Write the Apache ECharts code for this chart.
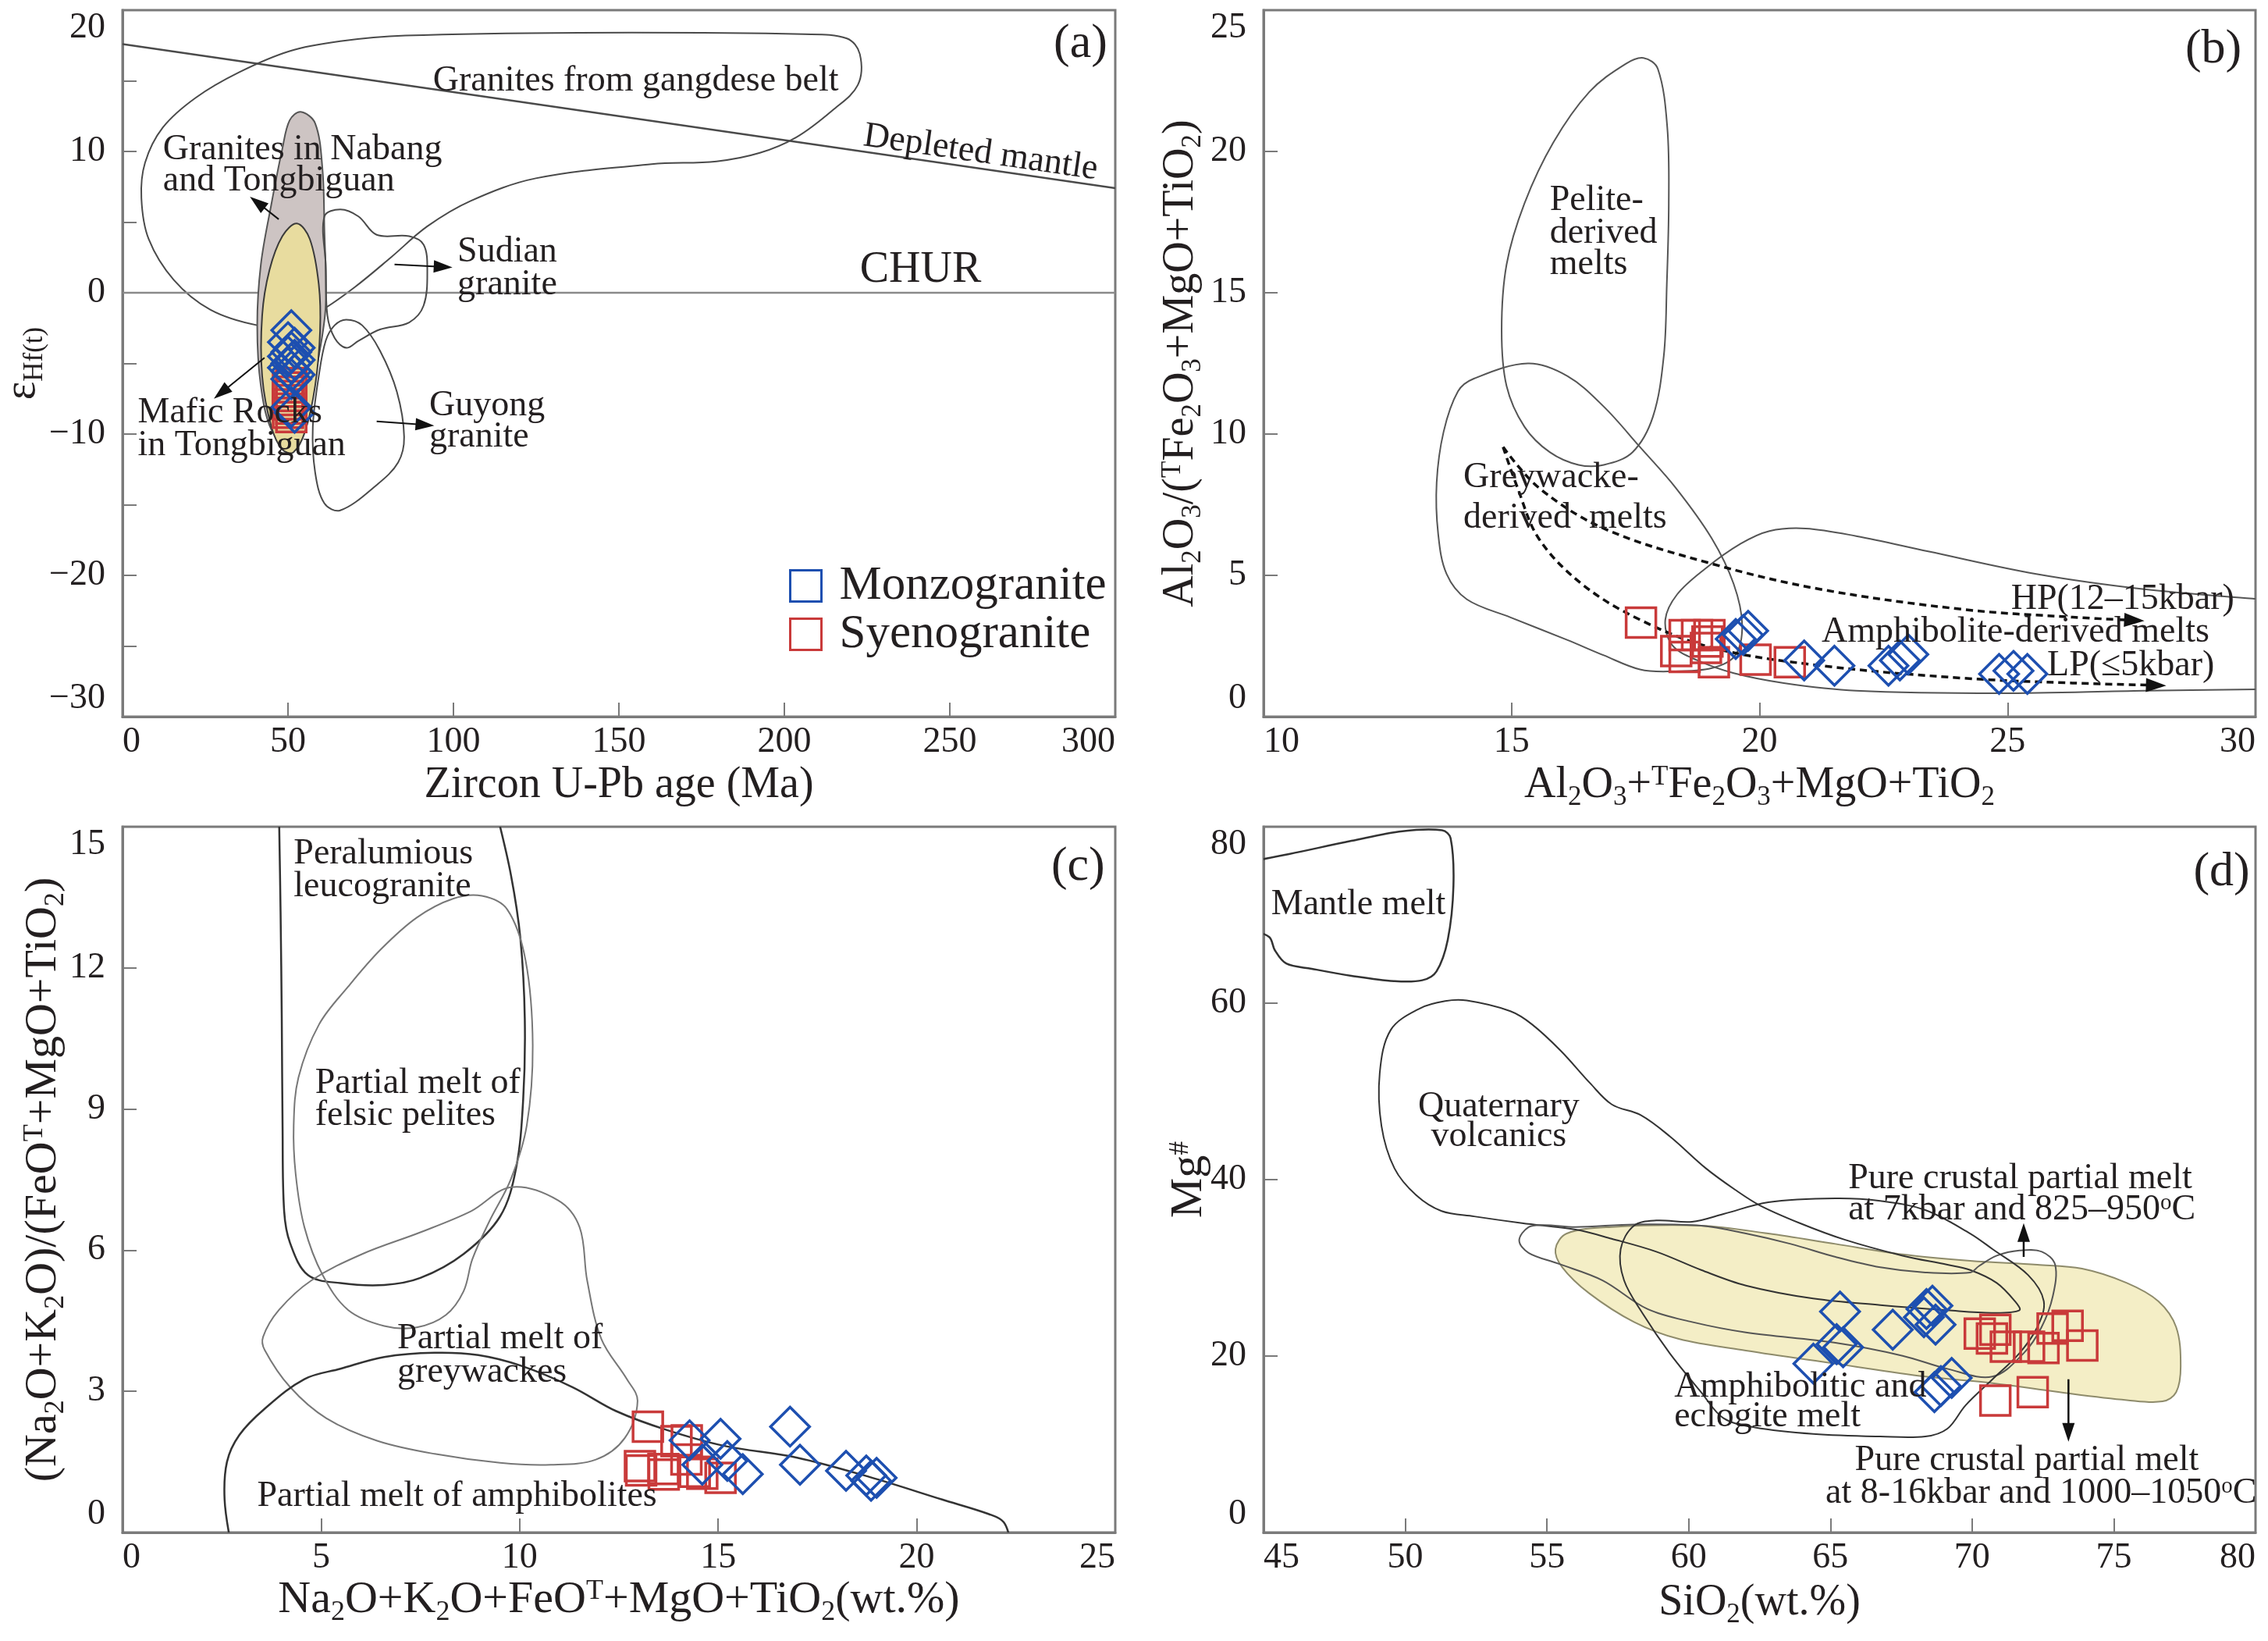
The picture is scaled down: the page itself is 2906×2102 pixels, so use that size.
<!DOCTYPE html>
<html><head><meta charset="utf-8">
<script src="https://cdn.jsdelivr.net/npm/echarts@6/dist/echarts.min.js"></script>
<style>html,body{margin:0;padding:0;background:#fff}#chart{width:2906px;height:2102px}</style>
</head><body><div id="chart"></div>
<script>
// ---------------- DATA ----------------
// Panel (a): Zircon U-Pb age (Ma) vs eHf(t)
const monzoA = [[51,-2.65],[50,-3.5],[52,-3.9],[51,-4.2],[50,-4.5],[52,-4.75],[51,-5.0],[50,-5.3],[51,-5.55],[52,-5.8],[51,-6.1],[51,-8.1],[52,-8.5]];
const syenoA = [[51,-6.4],[50,-6.7],[51,-7.0],[50,-7.3],[51,-7.6],[50,-7.9],[51,-8.2],[50,-8.5],[51,-8.8]];
// Panel (b): Al2O3+TFe2O3+MgO+TiO2 vs Al2O3/(TFe2O3+MgO+TiO2)
const monzoB = [[19.52,2.75],[19.67,2.89],[19.77,3.04],[20.9,1.99],[21.51,1.8],[22.6,1.8],[22.83,1.99],[23.0,2.2],[24.83,1.51],[25.12,1.62],[25.4,1.51]];
const syenoB = [[17.61,3.33],[18.32,2.32],[18.49,2.89],[18.74,2.89],[18.99,2.89],[18.49,2.11],[18.92,2.43],[19.08,1.93],[18.95,2.66],[19.92,2.02],[20.61,1.93]];
// Panel (c)
const monzoC = [[14.28,1.96],[15.06,1.99],[14.6,1.44],[15.23,1.52],[15.62,1.24],[16.81,2.25],[17.06,1.44],[18.22,1.31],[18.73,1.21],[18.99,1.16],[18.85,1.1]];
const syenoC = [[13.23,2.25],[13.95,1.94],[14.21,1.96],[13.03,1.41],[13.06,1.32],[13.62,1.35],[13.63,1.23],[14.41,1.29],[15.06,1.16],[14.6,1.25],[14.2,1.55]];
// Panel (d)
const monzoD = [[65.34,25.04],[65.22,21.35],[65.45,21.0],[64.4,19.14],[67.2,22.98],[68.39,25.34],[68.6,25.7],[68.71,23.57],[68.3,24.4],[69.28,17.52],[68.67,15.9],[68.9,16.6]];
const syenoD = [[70.27,22.54],[70.82,22.98],[70.7,22.0],[71.19,21.06],[72.01,21.06],[72.52,20.9],[72.84,23.12],[73.37,23.42],[73.89,21.2],[70.82,14.95],[72.14,15.9]];

// Field outlines (a)
const fieldGangdese = [[40.7,-2.3],[26.5,-1.2],[15.5,0.9],[7.9,3.8],[5.7,6.7],[6.8,9.2],[12.2,11.7],[22.1,13.8],[35.2,15.6],[50.5,17.1],[65.8,17.8],[85.5,18.2],[138,18.4],[205.8,18.3],[218.9,18.0],[222.8,16.9],[222.2,14.7],[214.5,12.9],[203.6,11.0],[192.6,9.9],[179.5,9.3],[159.9,9.1],[124.9,8.1],[105.2,6.5],[92.1,4.7],[81.1,2.5],[70.2,0.4],[60.4,-1.2],[50.5,-2.3]];
const fieldNabang = [[53.8,12.8],[58.2,12.0],[60.4,8.8],[61.0,4.5],[61.4,-0.9],[59.3,-4.5],[56.0,-8.0],[52.7,-9.8],[49.4,-10.5],[45.0,-9.7],[41.8,-6.6],[40.7,-2.3],[41.8,2.0],[45.0,6.3],[48.3,10.2],[50.5,12.2]];
const fieldMafic = [[52.7,4.9],[56.6,3.8],[59.3,0.6],[59.7,-2.7],[58.2,-6.6],[55.2,-9.8],[51.6,-11.3],[48.3,-11.1],[45.0,-9.5],[42.2,-5.9],[42.2,-1.6],[44.4,1.6],[48.3,4.0]];
const fieldSudian = [[61.0,5.4],[65.8,5.9],[71.3,5.4],[76.8,4.1],[86.6,4.0],[91.0,3.4],[92.1,1.6],[91.0,-0.9],[86.6,-2.1],[77.8,-2.6],[71.3,-3.4],[67.6,-3.9],[64.1,-3.2],[61.9,-1.6],[61.4,2.0]];
const fieldGuyong = [[67.6,-1.9],[72.4,-2.3],[77.8,-4.1],[82.9,-7.0],[85.1,-10.2],[83.3,-12.0],[76.8,-13.6],[65.8,-15.4],[61.0,-14.9],[58.2,-12.7],[57.5,-9.5],[59.3,-5.9],[61.4,-3.4],[64.1,-2.3]];
const lineDepleted = [[0,17.6],[300,7.4]];
const lineChur = [[0,0],[300,0]];
const arrowsA = [[[47.2,5.2],[38.5,6.8]],[[82.2,2.0],[99.7,1.8]],[[42.9,-4.6],[27.6,-7.5]],[[76.8,-9.1],[94.2,-9.4]]];

// Field outlines (b)
const fieldPelite = [[17.66,23.31],[17.95,22.92],[18.14,20.85],[18.17,18.16],[18.13,15.28],[18.07,12.77],[17.85,10.61],[17.44,9.36],[16.86,8.91],[16.35,8.91],[15.77,9.36],[15.26,10.26],[14.90,11.70],[14.80,13.67],[14.90,16.0],[15.26,18.16],[15.84,20.31],[16.57,22.11],[17.30,23.10]];
const fieldGreywacke = [[14.24,11.96],[15.33,12.50],[16.13,12.05],[16.86,10.97],[17.59,9.54],[18.31,8.10],[19.04,6.30],[19.48,4.69],[19.65,3.25],[19.51,2.17],[19.04,1.72],[18.17,1.60],[17.59,1.67],[16.86,2.17],[16.13,2.71],[14.97,3.52],[14.10,4.15],[13.69,5.05],[13.52,6.48],[13.49,8.28],[13.63,10.08],[13.92,11.51]];
const fieldAmphB = [[30.2,4.16],[29.94,4.18],[27.76,4.51],[25.58,5.05],[23.40,5.85],[21.95,6.39],[20.93,6.66],[20.20,6.57],[19.62,6.12],[18.90,5.23],[18.34,4.33],[18.10,3.43],[18.24,2.53],[18.75,1.99],[19.48,1.54],[20.49,1.19],[21.95,0.92],[24.85,0.83],[27.76,0.92],[30.2,0.97]];
const trendHP = [[14.83,9.54],[15.55,8.1],[16.86,6.66],[19.04,5.41],[21.22,4.51],[24.13,3.79],[26.31,3.52],[27.76,3.39]];
const trendLP = [[14.83,9.54],[15.12,8.1],[15.55,6.30],[16.42,4.69],[17.59,3.43],[19.04,2.44],[21.22,1.81],[24.13,1.36],[26.31,1.19],[28.2,1.10]];

// Field outlines (c)
const fieldLeuco = [[3.94,15.3],[3.98,13.19],[4.01,10.92],[4.03,8.65],[4.07,6.83],[4.22,6.15],[4.67,5.47],[5.49,5.30],[6.59,5.26],[7.50,5.41],[8.59,5.92],[9.51,6.72],[9.91,7.74],[10.09,9.21],[10.13,10.92],[10.02,12.62],[9.78,13.98],[9.42,15.3]];
const fieldFelsicPelites = [[9.05,13.53],[9.69,13.24],[10.15,12.16],[10.33,10.35],[10.18,8.65],[9.78,7.51],[9.23,6.60],[8.81,5.81],[8.59,5.13],[8.14,4.62],[7.41,4.36],[6.59,4.39],[5.68,4.73],[5.04,5.47],[4.58,6.49],[4.36,7.62],[4.31,8.65],[4.43,9.67],[4.95,10.80],[5.68,11.60],[6.50,12.39],[7.41,13.07],[8.32,13.47]];
const fieldGreywackes = [[9.78,7.34],[10.97,7.06],[11.51,6.49],[11.70,5.36],[12.06,4.11],[12.70,3.26],[12.97,2.80],[12.65,2.01],[11.92,1.55],[10.78,1.44],[9.51,1.48],[7.86,1.67],[6.41,1.95],[5.13,2.43],[4.22,3.09],[3.58,3.88],[3.54,4.16],[3.94,4.73],[4.76,5.36],[6.04,5.92],[7.50,6.38],[8.78,6.83]];
const fieldAmphC = [[2.72,-0.2],[2.57,0.70],[2.63,1.50],[2.94,2.07],[3.58,2.63],[4.58,3.26],[5.49,3.48],[6.59,3.73],[7.86,3.82],[8.96,3.77],[10.05,3.54],[11.33,3.09],[12.43,2.58],[13.70,2.18],[15.16,1.84],[16.99,1.59],[18.81,1.18],[20.64,0.70],[21.82,0.39],[22.19,0.22],[22.36,-0.2]];

// Field outlines (d)
const fieldMantle = [[44.6,76.1],[45.9,76.9],[48.1,78.4],[49.9,79.5],[51.3,79.6],[51.6,78.7],[51.7,73.3],[51.5,67.2],[51.1,63.6],[50.6,62.6],[49.6,62.5],[48.1,63.1],[46.7,63.9],[45.8,64.5],[45.4,66.0],[45.2,67.5],[44.6,68.2]];
const fieldQuaternary = [[52.17,60.30],[53.71,59.09],[54.48,57.58],[55.50,54.56],[56.52,50.94],[57.29,48.52],[58.31,47.31],[59.34,44.89],[60.61,41.27],[61.64,38.85],[62.5,37.1],[63.92,35.07],[65.5,33.2],[67.55,31.38],[69.13,30.35],[69.93,29.76],[70.87,28.29],[71.51,26.22],[71.67,25.19],[70.7,24.9],[69.13,25.19],[66.76,25.78],[64.39,26.52],[62.02,27.99],[60.44,29.76],[58.86,31.83],[57.28,33.3],[56.01,34.33],[54.12,35.07],[52.43,35.83],[51.28,36.44],[50.38,38.25],[49.62,41.27],[49.16,46.1],[49.1,52.1],[49.49,56.98],[50.51,59.4],[51.41,60.24]];
const field7kbar = [[54.35,34.62],[54.02,33.1],[54.35,31.7],[55.38,30.5],[56.96,28.58],[58.54,25.34],[60.12,23.86],[62.02,22.68],[65.18,21.5],[67.55,20.03],[69.13,18.55],[70.72,17.67],[71.82,20.32],[72.45,23.27],[72.85,26.81],[72.93,30.35],[72.46,31.83],[71.67,31.97],[70.87,31.38],[70.24,30.2],[69.93,29.47],[68.35,29.47],[66.76,30.06],[65.18,31.24],[63.6,32.71],[62.02,33.89],[60.44,34.78],[58.07,34.92],[56.01,34.63],[54.9,34.85]];
const fieldAmphD = [[58.07,34.78],[58.86,35.37],[60.12,35.22],[61.23,36.1],[62.81,37.43],[65.18,37.87],[66.76,37.58],[68.35,36.55],[69.93,33.89],[70.72,32.12],[71.98,29.17],[72.53,26.22],[72.3,23.27],[71.67,20.32],[70.72,17.37],[69.77,14.42],[69.13,11.77],[68.35,10.88],[66.76,10.88],[64.39,11.18],[62.34,11.91],[61.23,12.95],[60.44,15.9],[59.33,20.32],[58.39,24.75],[57.72,28.58],[57.6,32.12]];
const field816 = [[55.30,32.12],[55.70,33.89],[57.28,34.63],[60.44,34.78],[62.81,33.89],[65.18,32.71],[67.55,31.53],[69.93,30.79],[72.30,30.35],[73.88,29.91],[75.46,28.29],[76.57,26.22],[77.20,23.27],[77.36,18.85],[77.20,15.90],[76.72,14.86],[75.46,15.01],[73.09,15.90],[70.72,16.93],[68.35,17.67],[65.18,19.14],[62.02,20.62],[59.65,21.94],[58.07,23.86],[56.49,27.11],[55.54,30.06]];
const arrowsD = [[[71.82,31.24],[71.82,35.07]],[[73.4,17.37],[73.4,10.29]]];

// Text annotations: [x, y, text, options]
const labelsA = [
  [93.8,15.0,'Granites from gangdese belt'],
  [12.2,10.1,'Granites in Nabang'],[12.2,7.9,'and Tongbiguan'],
  [101.2,2.9,'Sudian'],[101.2,0.55,'granite'],
  [222.8,1.6,'CHUR',{size:56}],
  [259.3,9.9,'Depleted mantle',{align:'center',along:lineDepleted}],
  [4.6,-8.5,'Mafic Rocks'],[4.6,-10.8,'in Tongbiguan'],
  [92.7,-8.0,'Guyong'],[92.7,-10.2,'granite'],
  [297.6,17.6,'(a)',{size:62,align:'right'}]
];
const labelsB = [
  [15.77,18.25,'Pelite-'],[15.77,17.1,'derived'],[15.77,16.0,'melts'],
  [14.03,8.46,'Greywacke-'],[14.03,7.02,'derived  melts'],
  [25.07,4.15,'HP(12–15kbar)'],[21.25,2.98,'Amphibolite-derived melts'],[25.8,1.81,'LP(≤5kbar)'],
  [29.72,23.6,'(b)',{size:62,align:'right'}]
];
const labelsC = [
  [4.31,14.42,'Peralumious'],[4.31,13.73,'leucogranite'],
  [4.85,9.55,'Partial melt of'],[4.85,8.87,'felsic pelites'],
  [6.92,4.11,'Partial melt of'],[6.92,3.40,'greywackes'],
  [3.39,0.76,'Partial melt of amphibolites'],
  [24.74,14.15,'(c)',{size:62,align:'right'}]
];
const labelsD = [
  [45.27,71.2,'Mantle melt'],
  [53.3,48.2,'Quaternary',{align:'center'}],[53.3,44.9,'volcanics',{align:'center'}],
  [65.63,40.09,'Pure crustal partial melt'],[65.63,36.55,'at 7kbar and 825–950^oC'],
  [59.49,16.49,'Amphibolitic and'],[59.49,13.09,'eclogite melt'],
  [65.86,8.16,'Pure crustal partial melt'],[64.83,4.41,'at 8-16kbar and 1000–1050^oC'],
  [79.8,74.8,'(d)',{size:62,align:'right'}]
];

// ---------------- STYLE / BUILD ----------------
const FONT = '"Liberation Serif","DejaVu Serif",serif';
const INK = '#231f20', AXIS = '#7a7a7a', BLUE = '#1d4fb0', RED = '#c93a3a', LINE = '#3a3a3a';

function richify(str){
  let out = '', buf = '';
  const flush = () => { if (buf) { out += '{n|' + buf + '}'; buf = ''; } };
  for (let i = 0; i < str.length; i++) {
    const c = str[i];
    if (c === '_' || c === '^') {
      flush();
      let t;
      if (str[i+1] === '[') { const j = str.indexOf(']', i); t = str.slice(i+2, j); i = j; }
      else { t = str[i+1]; i++; }
      out += '{' + (c === '_' ? 's' : 'p') + '|' + t + '}';
    } else buf += c;
  }
  flush();
  return out;
}
function richStyles(F){
  const s = Math.round(F*0.62);
  return {
    n:{fontSize:F,fontFamily:FONT,color:INK,fill:INK,lineHeight:F},
    s:{fontSize:s,fontFamily:FONT,color:INK,fill:INK,lineHeight:F,padding:[Math.round(F*0.55),0,0,0]},
    p:{fontSize:s,fontFamily:FONT,color:INK,fill:INK,lineHeight:F,padding:[0,0,Math.round(F*0.38),0]}
  };
}

const grids = [
  {left:157, top:13, width:1272, height:905},
  {left:1619, top:13, width:1271, height:905},
  {left:157, top:1059, width:1272, height:904},
  {left:1619, top:1059, width:1271, height:904}
].map(g => Object.assign(g, {show:true, borderColor:AXIS, borderWidth:3, backgroundColor:'transparent', containLabel:false, outerBoundsMode:'none'}));

function axis(kind, g, min, max, interval, name, F, gap, fmt){
  const label = {fontFamily:FONT, fontSize:46, color:INK, margin: kind==='x'?10:22, formatter: fmt || (v => String(v))};
  if (kind === 'x') { label.alignMinLabel = 'left'; label.alignMaxLabel = 'right'; }
  else { label.verticalAlignMinLabel = 'bottom'; label.verticalAlignMaxLabel = 'top'; }
  return {
    type:'value', gridIndex:g, min, max, interval,
    axisLine:{show:true, onZero:false, lineStyle:{color:AXIS, width:3}},
    axisTick:{show:true, inside:true, length:18, lineStyle:{color:AXIS, width:2}},
    splitLine:{show:false},
    axisLabel: label,
    name: richify(name), nameLocation:'middle', nameGap:gap, nameMoveOverlap:false,
    nameTextStyle:{fontFamily:FONT, fontSize:F, color:INK, rich:richStyles(F)}
  };
}
const fmtA = v => (Math.round(v) % 10 === 0 ? (v < 0 ? '−' + (-v) : String(v)) : '');

const xAxes = [
  axis('x',0,0,300,50,'Zircon U-Pb age (Ma)',56,60),
  axis('x',1,10,30,5,'Al_2O_3+^TFe_2O_3+MgO+TiO_2',56,60),
  axis('x',2,0,25,5,'Na_2O+K_2O+FeO^T+MgO+TiO_2(wt.%)',58,58),
  axis('x',3,45,80,5,'SiO_2(wt.%)',56,62)
];
const yAxes = [
  axis('y',0,-30,20,5,'ε_[Hf(t)]',56,100,fmtA),
  axis('y',1,0,25,5,'Al_2O_3/(^TFe_2O_3+MgO+TiO_2)',56,78),
  axis('y',2,0,15,3,'(Na_2O+K_2O)/(FeO^T+MgO+TiO_2)',58,72),
  axis('y',3,0,80,20,'Mg^#',58,66)
];

function shape(g, pts, o){
  o = o || {};
  return {
    type:'custom', xAxisIndex:g, yAxisIndex:g, clip:true, silent:true, z:o.z||3,
    data:[pts[0]],
    renderItem(params, api){
      const p = pts.map(q => api.coord(q));
      return {
        type: o.closed === false ? 'polyline' : 'polygon',
        shape:{points:p, smooth: o.smooth == null ? 0.35 : o.smooth},
        style:{fill: o.fill || null, stroke: o.stroke || LINE, lineWidth: o.width || 2, lineDash: o.dash || null}
      };
    }
  };
}
function arrows(g, list, o){
  o = o || {};
  return {
    type:'custom', xAxisIndex:g, yAxisIndex:g, clip:true, silent:true, z:o.z||6,
    data:list.map(a => a[0]),
    renderItem(params, api){
      const pts = list[params.dataIndex].map(q => api.coord(q));
      const n = pts.length, tip = pts[n-1], prev = pts[n-2];
      let dx = tip[0]-prev[0], dy = tip[1]-prev[1];
      const L = Math.hypot(dx, dy) || 1; dx /= L; dy /= L;
      const hl = o.head || 24, hw = o.hw || 8;
      const bx = tip[0]-dx*hl, by = tip[1]-dy*hl;
      const lp = pts.slice(); lp[n-1] = [tip[0]-dx*hl*0.6, tip[1]-dy*hl*0.6];
      return {type:'group', children:[
        {type:'polyline', shape:{points:lp, smooth:o.smooth||0}, style:{stroke:'#111', fill:null, lineWidth:o.width||2, lineDash:o.dash||null}},
        {type:'polygon', shape:{points:[tip,[bx-dy*hw, by+dx*hw],[bx+dy*hw, by-dx*hw]]}, style:{fill:'#111', stroke:null}}
      ]};
    }
  };
}
function texts(g, list){
  return {
    type:'custom', xAxisIndex:g, yAxisIndex:g, clip:false, silent:true, z:12,
    data:list.map(l => [l[0], l[1]]),
    renderItem(params, api){
      const l = list[params.dataIndex], o = l[3] || {};
      const p = api.coord([l[0], l[1]]);
      const F = o.size || 46;
      let rot = 0;
      if (o.along) {
        const a = api.coord(o.along[0]), b = api.coord(o.along[1]);
        rot = Math.atan2(-(b[1]-a[1]), b[0]-a[0]);
      }
      return {type:'text', x:p[0], y:p[1], rotation:rot,
        style:{text:richify(l[2]), rich:richStyles(F), fontSize:F, fontFamily:FONT, fill:INK,
               align:o.align||'left', verticalAlign:'middle'}};
    }
  };
}
function scatter(name, g, data){
  const m = name === 'Monzogranite';
  return {
    type:'scatter', name, xAxisIndex:g, yAxisIndex:g, data, silent:true, z:10,
    symbol: m ? 'diamond' : 'rect', symbolSize: m ? 50 : 38,
    itemStyle:{color:'rgba(0,0,0,0)', borderColor: m ? BLUE : RED, borderWidth:3.5, opacity:1}
  };
}

const series = [
  // (a)
  shape(0, fieldGangdese, {stroke:'#4a4a4a', width:2, z:2}),
  shape(0, lineDepleted, {closed:false, smooth:0, stroke:'#4a4a4a', width:2.5, z:2}),
  shape(0, lineChur, {closed:false, smooth:0, stroke:'#8a8a8a', width:2.5, z:2}),
  shape(0, fieldNabang, {fill:'#cdc4c3', stroke:'#555', width:2, z:3}),
  shape(0, fieldMafic, {fill:'#e8dc9f', stroke:null, width:0, z:4}),
  shape(0, fieldSudian, {stroke:'#4a4a4a', width:2, z:5}),
  shape(0, fieldGuyong, {stroke:'#4a4a4a', width:2, z:5}),
  arrows(0, arrowsA, {width:2}),
  // (b)
  shape(1, fieldPelite, {stroke:'#555', width:2}),
  shape(1, fieldGreywacke, {stroke:'#555', width:2}),
  shape(1, fieldAmphB, {closed:false, stroke:'#555', width:2}),
  arrows(1, [trendHP, trendLP], {width:3.5, dash:[9,6], smooth:0.35, head:26, hw:9}),
  // (c)
  shape(2, fieldLeuco, {closed:false, stroke:'#333', width:2.5}),
  shape(2, fieldFelsicPelites, {stroke:'#777', width:2}),
  shape(2, fieldGreywackes, {stroke:'#777', width:2}),
  shape(2, fieldAmphC, {closed:false, stroke:'#333', width:2.5}),
  // (d)
  shape(3, field816, {fill:'#f4eec6', stroke:'#8e8b6b', width:2, z:1}),
  shape(3, fieldMantle, {closed:false, stroke:'#333', width:2.5}),
  shape(3, fieldQuaternary, {stroke:'#333', width:2}),
  shape(3, field7kbar, {stroke:'#555', width:2}),
  shape(3, fieldAmphD, {stroke:'#333', width:2}),
  arrows(3, arrowsD, {width:2.5}),
  // markers
  scatter('Syenogranite', 0, syenoA), scatter('Monzogranite', 0, monzoA),
  scatter('Syenogranite', 1, syenoB), scatter('Monzogranite', 1, monzoB),
  scatter('Syenogranite', 2, syenoC), scatter('Monzogranite', 2, monzoC),
  scatter('Syenogranite', 3, syenoD), scatter('Monzogranite', 3, monzoD),
  // texts
  texts(0, labelsA), texts(1, labelsB), texts(2, labelsC), texts(3, labelsD)
];

const chart = echarts.init(document.getElementById('chart'), null, {renderer:'canvas'});
chart.setOption({
  animation:false,
  backgroundColor:'#ffffff',
  grid:grids, xAxis:xAxes, yAxis:yAxes,
  legend:{
    data:['Monzogranite','Syenogranite'], orient:'vertical', left:1006, top:715,
    itemWidth:40, itemHeight:40, itemGap:1, icon:'rect', selectedMode:false,
    itemStyle:{borderWidth:3},
    textStyle:{fontFamily:FONT, fontSize:61, color:INK, padding:[0,0,0,18]}
  },
  series
});
</script></body></html>
